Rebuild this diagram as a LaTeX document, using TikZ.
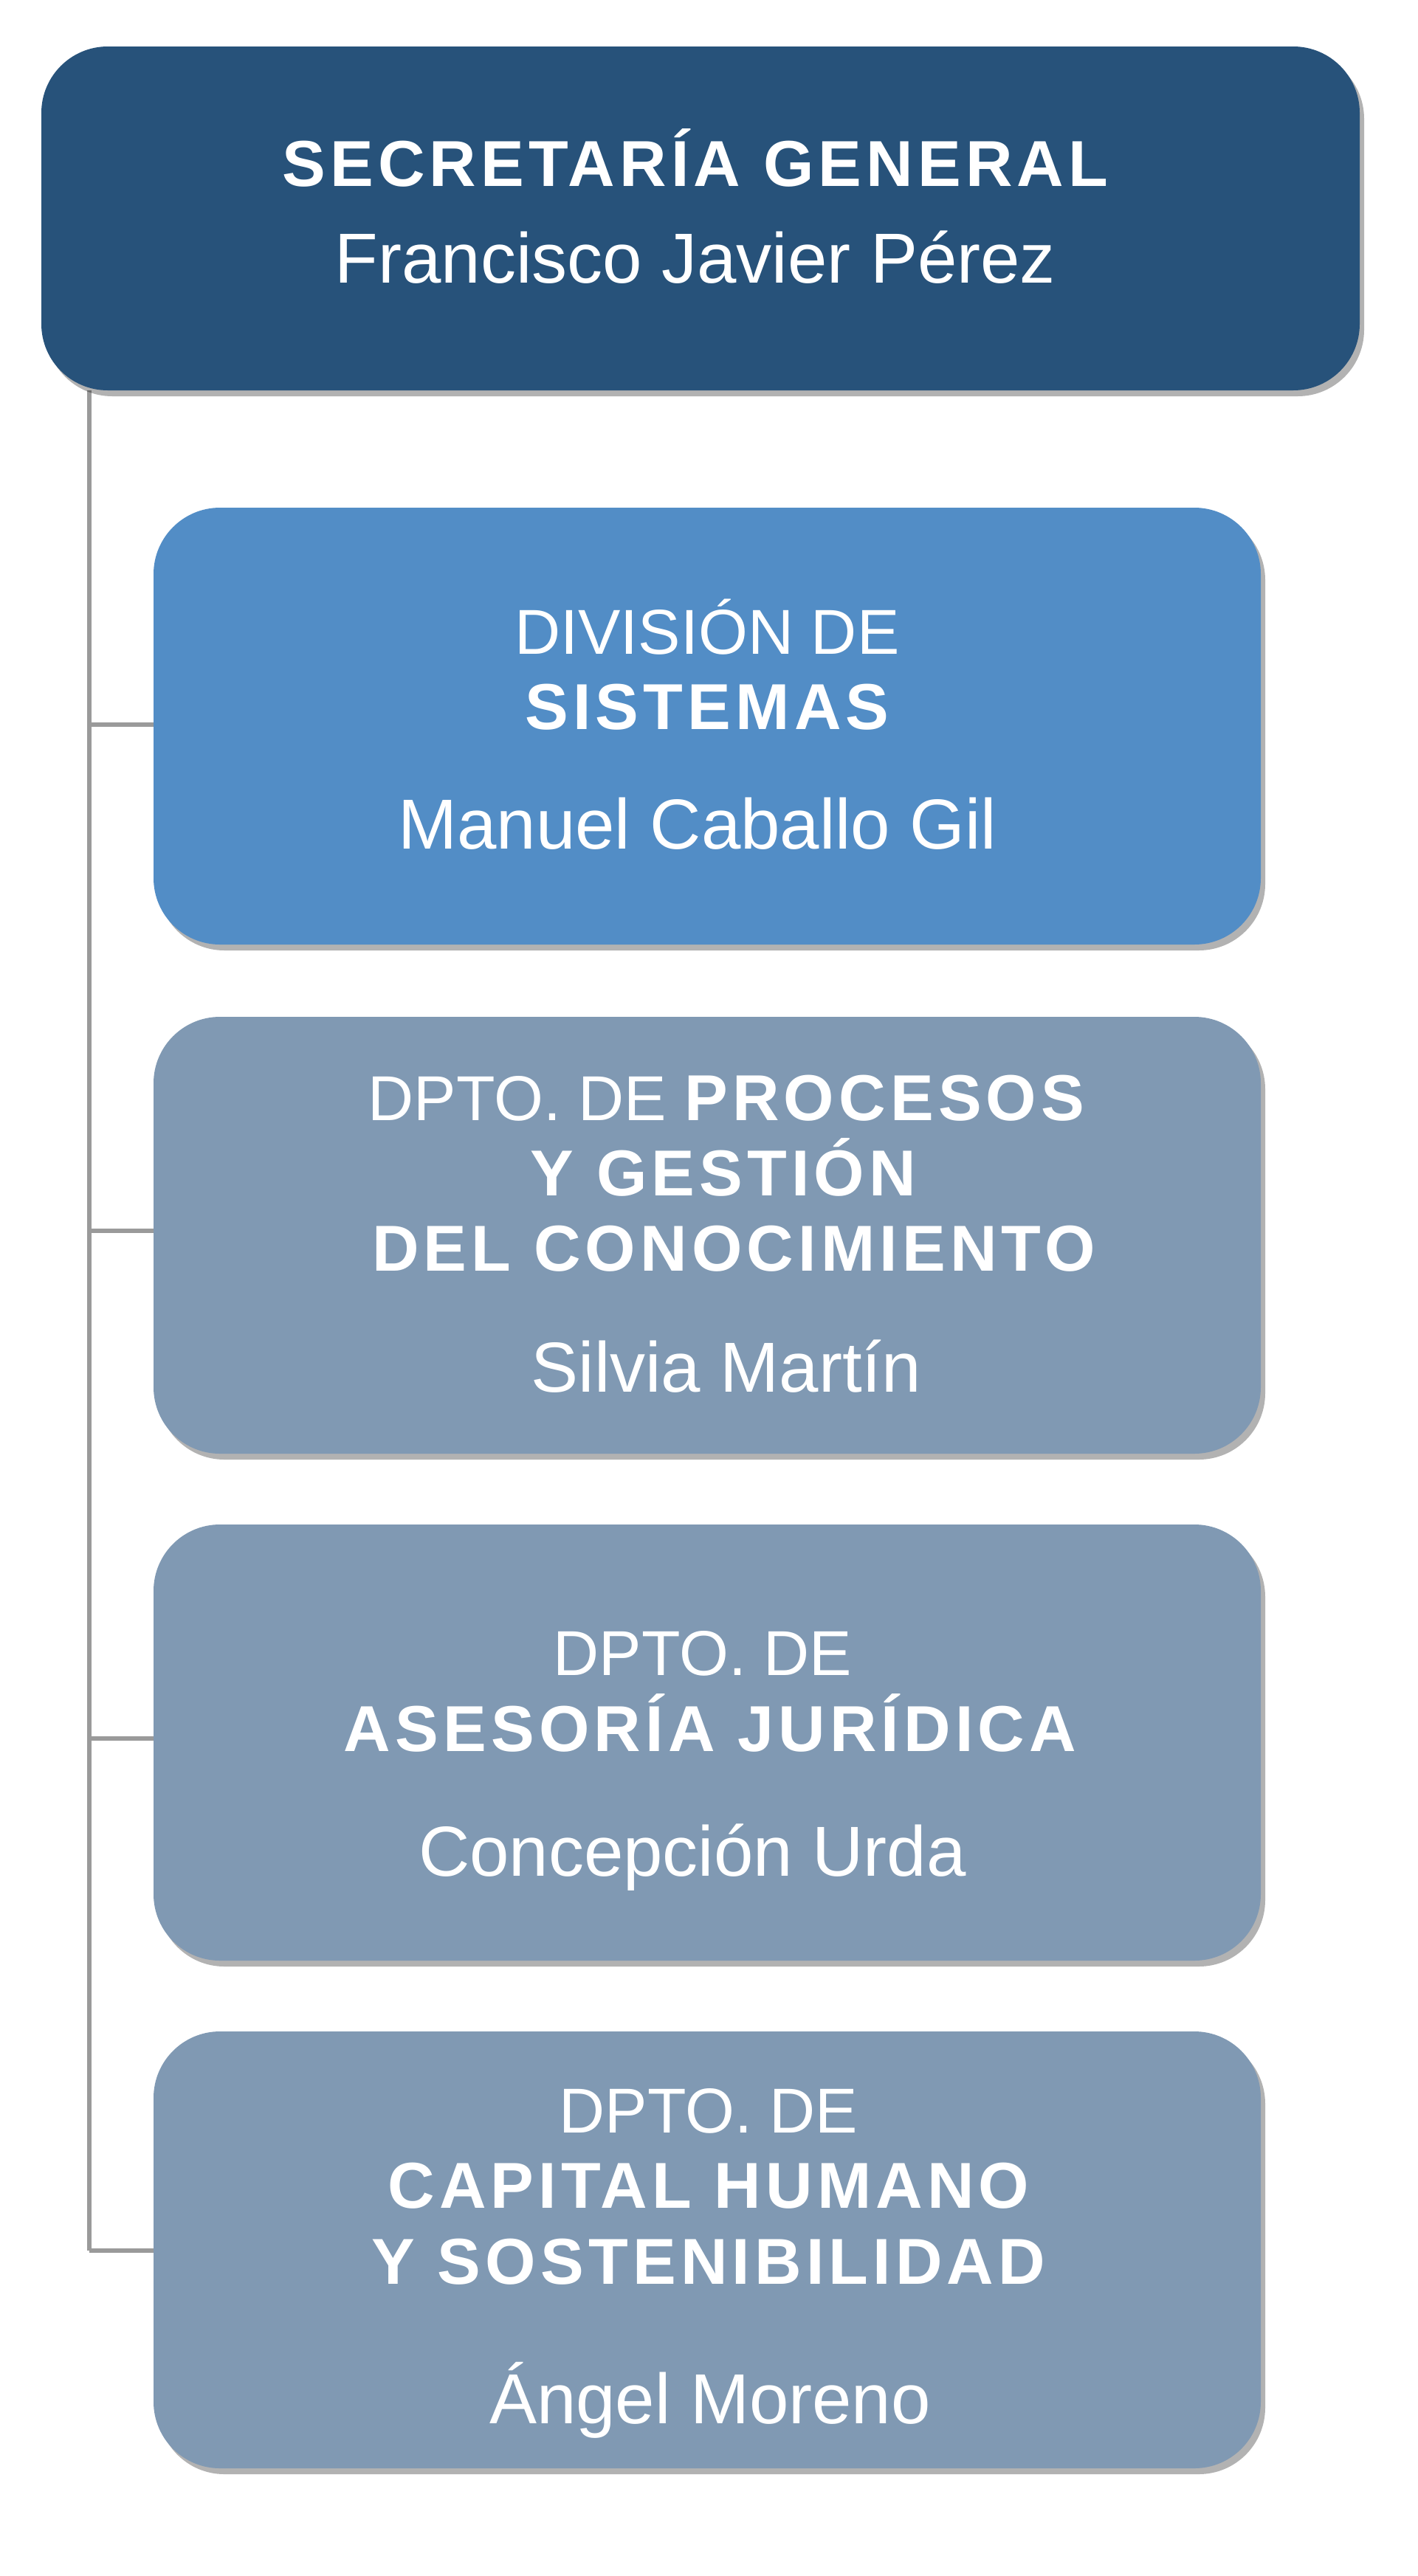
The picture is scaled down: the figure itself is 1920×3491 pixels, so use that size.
\documentclass[tikz,border=0pt]{standalone}
\usepackage{fontspec}
\setmainfont{Liberation Sans}
\newfontfamily\heavy[LetterSpace=7]{Liberation Sans Bold}
\usetikzlibrary{shadows}
\definecolor{topc}{HTML}{27527A}
\definecolor{divc}{HTML}{528DC6}
\definecolor{dptc}{HTML}{8099B3}
\definecolor{linec}{HTML}{9A9A9A}
\newcommand{\hv}[1]{{\heavy #1}}
\tikzset{
 box/.style={rounded corners=90pt, draw=none, drop shadow={shadow xshift=6pt, shadow yshift=-8pt, opacity=0.3, fill=black}},
 txt/.style={text=white, inner sep=0pt, anchor=base},
 lbl/.style={txt, font=\fontsize{86}{100}\selectfont},
 blbl/.style={txt, font=\fontsize{88}{100}\selectfont\heavy},
 nm/.style={txt, font=\fontsize{96}{110}\selectfont},
 conn/.style={draw=linec, line width=6pt}
}
\begin{document}
\begin{tikzpicture}[x=1pt,y=1pt]
\useasboundingbox (0,0) rectangle (1920,-3491);
\fill[white] (0,0) rectangle (1920,-3491);
\draw[conn] (121,-529) coordinate (c0) -- (121,-3050) coordinate (c4);
\path[box, fill=topc] (56,-63) rectangle (1842,-529);
\path[box, fill=divc] (208,-688) rectangle (1708,-1280);
\path[box, fill=dptc] (208,-1378) rectangle (1708,-1970);
\path[box, fill=dptc] (208,-2066) rectangle (1708,-2657);
\path[box, fill=dptc] (208,-2753) rectangle (1708,-3345);
\coordinate (b1) at (208,-982);
\coordinate (b2) at (208,-1668);
\coordinate (b3) at (208,-2356);
\coordinate (b4) at (208,-3050);
\coordinate (c1) at (121,-982);
\coordinate (c2) at (121,-1668);
\coordinate (c3) at (121,-2356);
\draw[conn] (c1) -- (b1); \draw[conn] (c2) -- (b2); \draw[conn] (c3) -- (b3); \draw[conn] (c4) -- (b4);
\node[blbl] (t1) at (942,-252) {SECRETARÍA GENERAL};
\node[nm] (t2) at (942,-383) {Francisco Javier Pérez};
\node[lbl] (d1) at (958,-886) {DIVISIÓN DE};
\node[blbl] (d2) at (958,-988) {SISTEMAS};
\node[nm] (d3) at (945,-1150) {Manuel Caballo Gil};
\node[txt, font=\fontsize{86}{100}\selectfont] (p1) at (984,-1518) {DPTO. DE \fontsize{88}{100}\selectfont\hv{PROCESOS}};
\node[blbl] (p2) at (980,-1620) {Y GESTIÓN};
\node[blbl] (p3) at (994,-1722) {DEL CONOCIMIENTO};
\node[nm] (p4) at (984,-1886) {Silvia Martín};
\node[lbl] (a1) at (952,-2270) {DPTO. DE};
\node[blbl] (a2) at (962,-2373) {ASESORÍA JURÍDICA};
\node[nm] (a3) at (938,-2542) {Concepción Urda};
\node[lbl] (h1) at (960,-2890) {DPTO. DE};
\node[blbl] (h2) at (960,-2992) {CAPITAL HUMANO};
\node[blbl] (h3) at (960,-3095) {Y SOSTENIBILIDAD};
\node[nm] (h4) at (962,-3284) {Ángel Moreno};
\end{tikzpicture}
\end{document}
